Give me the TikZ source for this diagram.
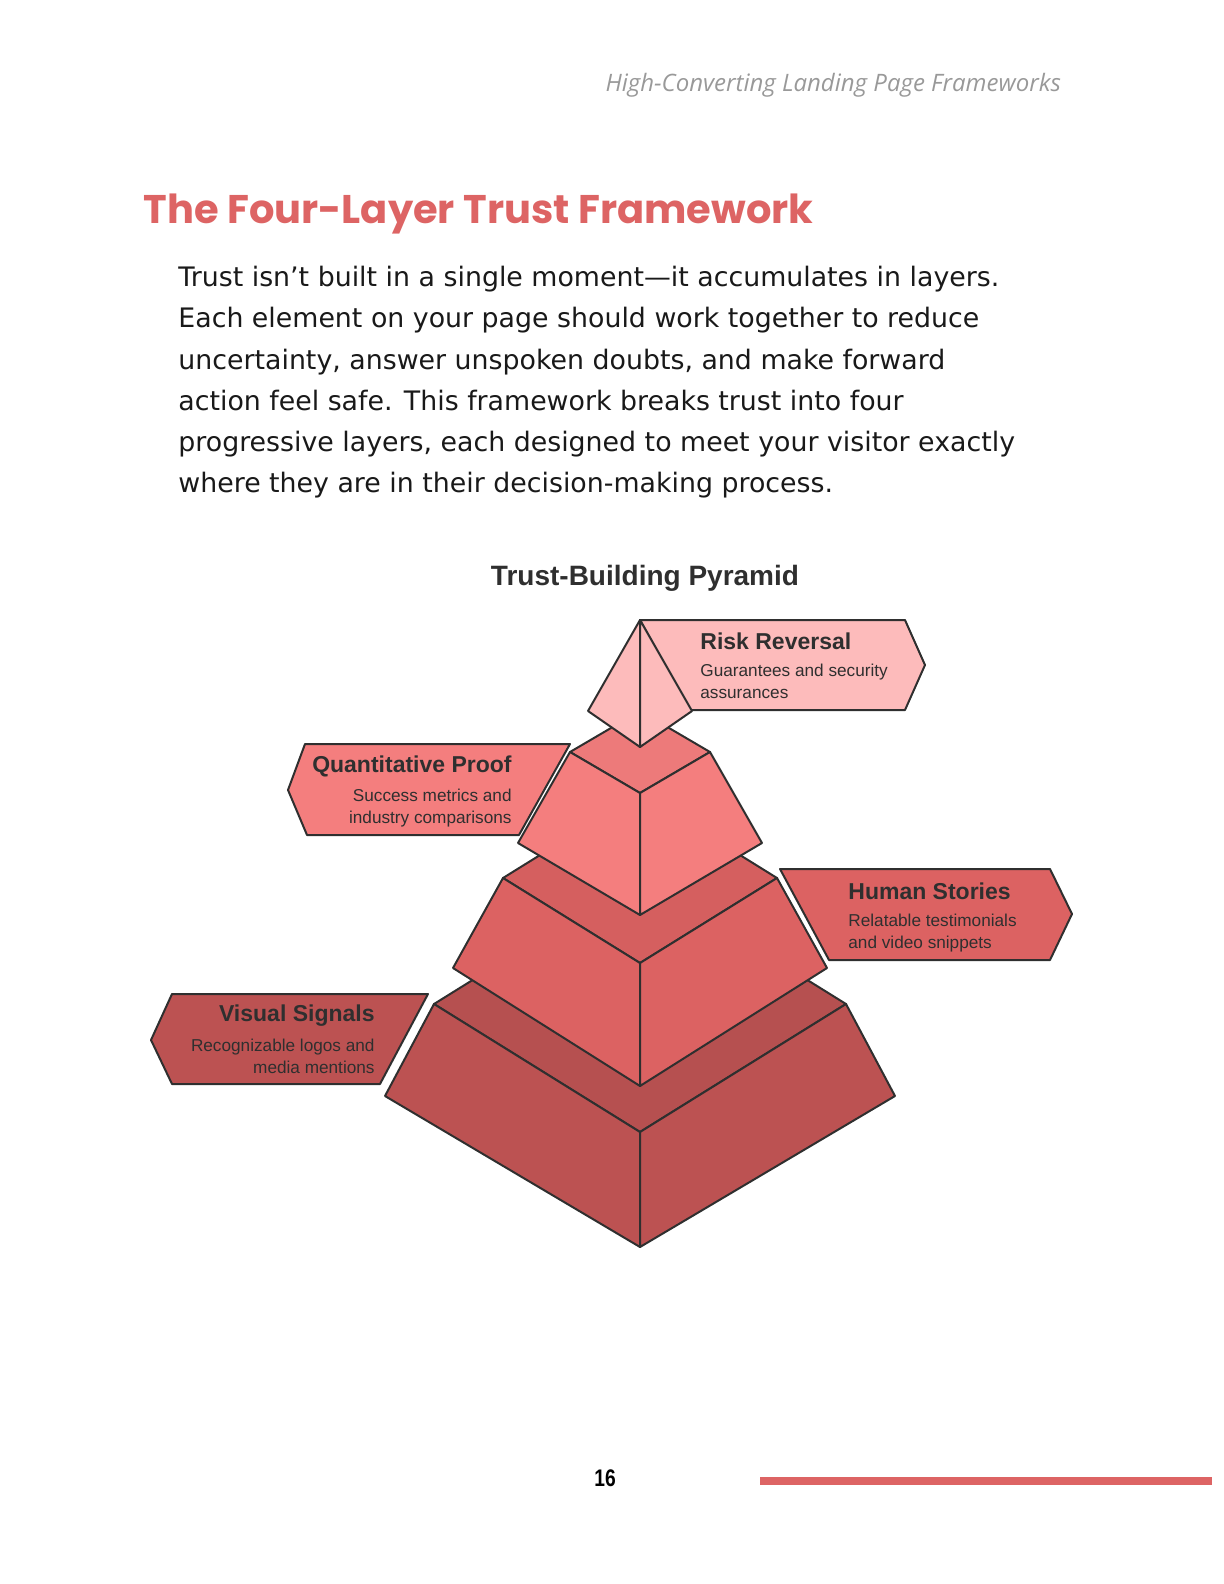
\documentclass[tikz,border=0pt]{standalone}
\usepackage{fontspec}
\setmainfont{Liberation Sans}
\newfontfamily\titlefont{Poppins}
\newfontfamily\bodyfont{Open Sans}
\newfontfamily\prosefont{DejaVu Sans}
\usetikzlibrary{positioning}
\definecolor{accent}{HTML}{DD6464}
\definecolor{inkdark}{HTML}{2F2F2F}
\definecolor{layerA}{HTML}{FDBBBB}
\definecolor{layerB}{HTML}{F47E7E}
\definecolor{layerC}{HTML}{DC6262}
\definecolor{layerD}{HTML}{BC5252}
\tikzset{
    face/.style={draw=inkdark, line width=1pt, line join=round},
    banner/.style={draw=inkdark, line width=1pt, line join=round},
    headtxt/.style={font=\fontsize{12}{14}\selectfont\bodyfont\itshape, text=black!40},
    labtitle/.style={font=\fontsize{11.5}{13}\selectfont\bfseries, text=inkdark, inner sep=0pt},
    labtext/.style={font=\fontsize{8.6}{11}\selectfont, text=inkdark, inner sep=0pt},
}
\begin{document}
\begin{tikzpicture}[x=0.5pt, y=-0.5pt]
	\useasboundingbox (0,0) rectangle (1224,1584);
	% header and text
	\node[headtxt, anchor=east] (head) at (1068,85) {High-Converting Landing Page Frameworks};
	\node[anchor=west, inner sep=0pt, text=accent, font=\fontsize{20}{24}\selectfont\titlefont\bfseries] (title) at (143,214) {The Four-Layer Trust Framework};
	\node[anchor=north west, inner sep=0pt, align=left, text=black!90, font=\fontsize{13.4}{20.6}\selectfont\prosefont] (body) at (178,266)
		{Trust isn’t built in a single moment—it accumulates in layers.\\
		Each element on your page should work together to reduce\\
		uncertainty, answer unspoken doubts, and make forward\\
		action feel safe. This framework breaks trust into four\\
		progressive layers, each designed to meet your visitor exactly\\
		where they are in their decision-making process.};
	\node[font=\fontsize{14}{16}\selectfont\bfseries, text=inkdark] (ptitle) at (645,578) {Trust-Building Pyramid};
	% banners
	\draw[banner, fill=layerA] (640,620) -- (905,620) -- (925,665) -- (905,710) -- (690,710) -- cycle;
	\draw[banner, fill=layerB] (570,744) -- (305,744) -- (288,790) -- (307,835) -- (519,835) -- cycle;
	\draw[banner, fill=layerC] (780,869) -- (1050,869) -- (1072,914) -- (1050,960) -- (829,960) -- cycle;
	\draw[banner, fill=layerD] (428,994) -- (172,994) -- (151,1040) -- (172,1084) -- (380,1084) -- cycle;
	% bottom layer
	\draw[face, fill=layerD!97!black] (434,1004) -- (640,876) -- (846,1004) -- (640,1132) -- cycle;
	\draw[face, fill=layerD] (434,1004) -- (640,1132) -- (640,1247) -- (385,1096) -- cycle;
	\draw[face, fill=layerD] (846,1004) -- (640,1132) -- (640,1247) -- (895,1096) -- cycle;
	% third layer
	\draw[face, fill=layerC!97!black] (503,878) -- (640,793) -- (777,878) -- (640,963) -- cycle;
	\draw[face, fill=layerC] (503,878) -- (640,963) -- (640,1086) -- (453,968) -- cycle;
	\draw[face, fill=layerC] (777,878) -- (640,963) -- (640,1086) -- (827,968) -- cycle;
	% second layer
	\draw[face, fill=layerB!97!black] (570,752) -- (640,711) -- (710,752) -- (640,793) -- cycle;
	\draw[face, fill=layerB] (570,752) -- (640,793) -- (640,915) -- (518,843) -- cycle;
	\draw[face, fill=layerB] (710,752) -- (640,793) -- (640,915) -- (762,843) -- cycle;
	% top
	\draw[face, fill=layerA] (640,620) -- (588,711) -- (640,747) -- cycle;
	\draw[face, fill=layerA] (640,620) -- (692,711) -- (640,747) -- cycle;
	% labels
	\node[labtitle, anchor=west] (riskT) at (700,641) {Risk Reversal};
	\node[labtext, anchor=north west, align=left] (riskS) at (700,664) {Guarantees and security\\assurances};
	\node[labtitle, anchor=east] (quantT) at (512,766) {Quantitative Proof};
	\node[labtext, anchor=north east, align=right] (quantS) at (512,789) {Success metrics and\\industry comparisons};
	\node[labtitle, anchor=west] (humanT) at (848,891) {Human Stories};
	\node[labtext, anchor=north west, align=left] (humanS) at (848,914) {Relatable testimonials\\and video snippets};
	\node[labtitle, anchor=east] (visualT) at (375,1016) {Visual Signals};
	\node[labtext, anchor=north east, align=right] (visualS) at (375,1039) {Recognizable logos and\\media mentions};
	% footer
	\node[font=\fontsize{12}{14}\selectfont\bfseries, text=black, xscale=0.8] (page) at (605,1478) {16};
	\fill[accent] (760,1477) rectangle (1212,1485);
\end{tikzpicture}
\end{document}
